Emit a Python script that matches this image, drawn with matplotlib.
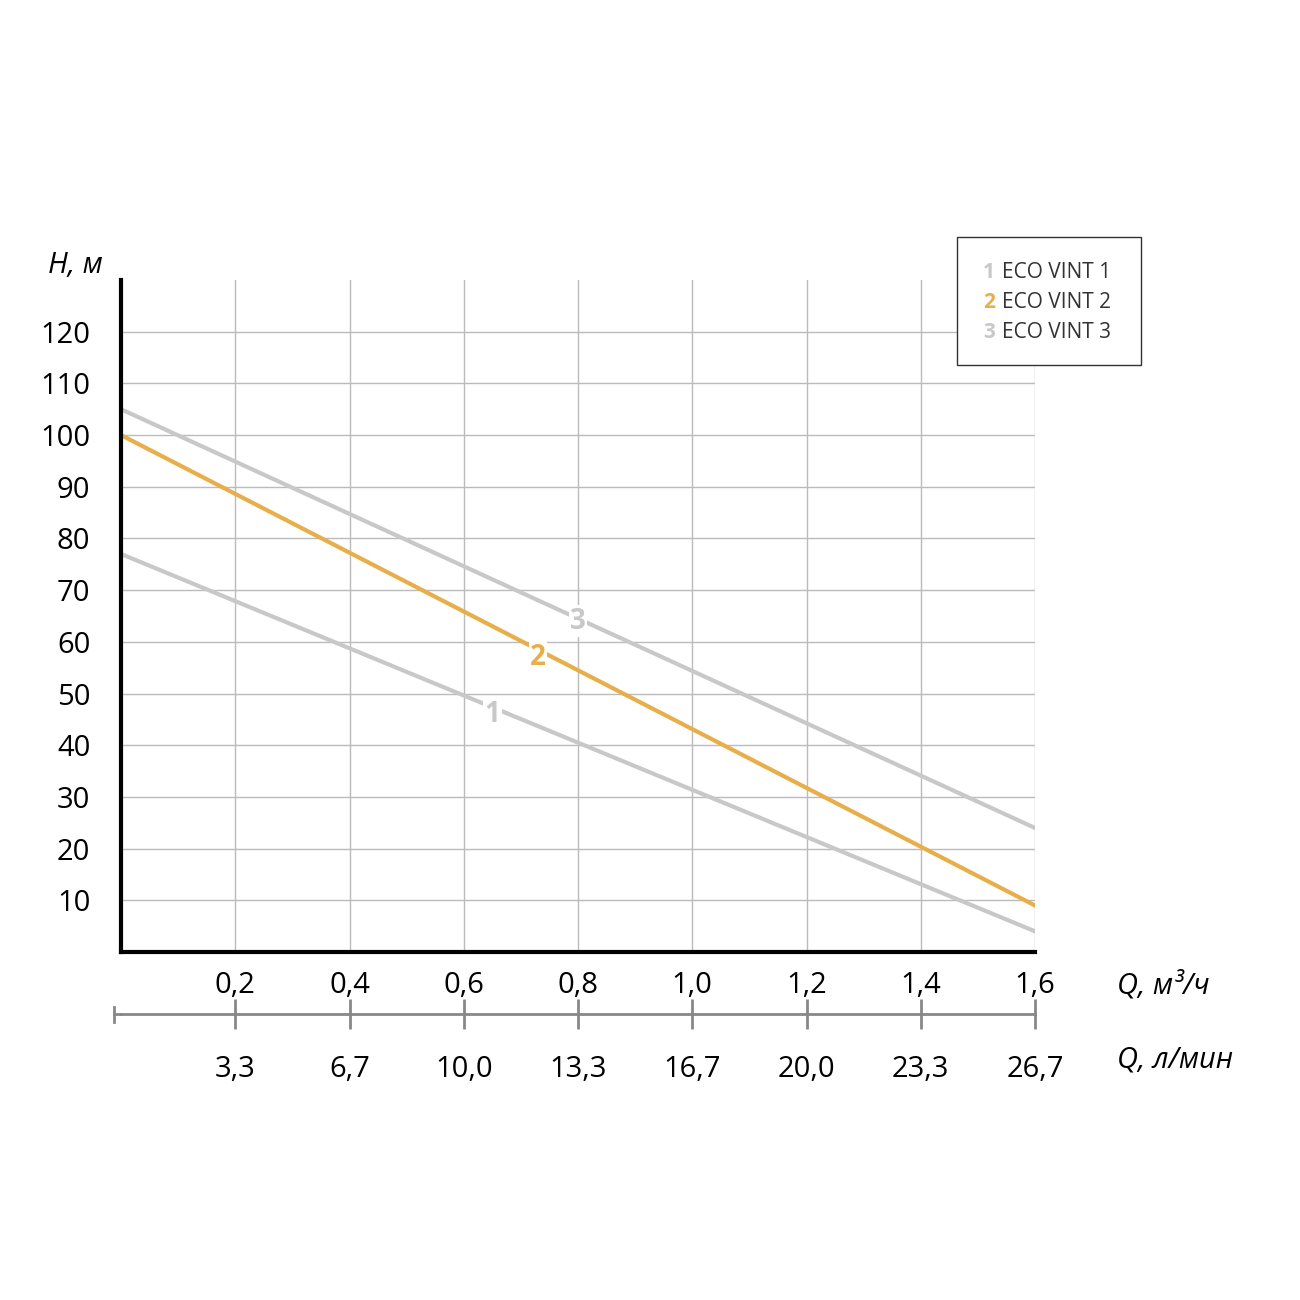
import matplotlib
matplotlib.use("Agg")
import matplotlib.pyplot as plt
import numpy as np

q_m3h = [0.0, 1.6]
h1 = [77, 4]
h2 = [100, 9]
h3 = [105, 24]
xticks = [0.2, 0.4, 0.6, 0.8, 1.0, 1.2, 1.4, 1.6]
xlabels = ["0,2", "0,4", "0,6", "0,8", "1,0", "1,2", "1,4", "1,6"]
lmin_labels = ["3,3", "6,7", "10,0", "13,3", "16,7", "20,0", "23,3", "26,7"]
yticks = list(range(10, 130, 10))
names = ["ECO VINT 1", "ECO VINT 2", "ECO VINT 3"]

GRAY = "#c8c8c8"
ORANGE = "#e8ae4a"
plt.rcParams['font.family'] = ['Open Sans', 'DejaVu Sans']

fig = plt.figure(figsize=(13, 13), dpi=100)
ax = fig.add_axes([121/1300, 1-952/1300, (1035-121)/1300, (952-280)/1300])
ax.set_xlim(0, 1.6)
ax.set_ylim(0, 130)
for x in xticks:
    ax.axvline(x, color="#bbbbbb", lw=1, zorder=0)
for y in yticks:
    ax.axhline(y, color="#bbbbbb", lw=1, zorder=0)
ax.plot(q_m3h, h1, color=GRAY, lw=3)
ax.plot(q_m3h, h3, color=GRAY, lw=3)
ax.plot(q_m3h, h2, color=ORANGE, lw=3)
for lbl, xx, yy, c in [("1", 0.65, 46, GRAY), ("2", 0.73, 57, ORANGE), ("3", 0.8, 64, GRAY)]:
    ax.text(xx, yy, lbl, color=c, fontsize=20, fontweight="bold", ha="center", va="center",
            bbox=dict(facecolor="white", edgecolor="none", pad=1))
for s in ["top", "right"]:
    ax.spines[s].set_visible(False)
for s in ["left", "bottom"]:
    ax.spines[s].set_linewidth(3)
ax.set_yticks(yticks)
ax.set_yticklabels([str(v) for v in yticks], fontsize=21)
ax.set_xticks(xticks)
ax.set_xticklabels(xlabels, fontsize=21)
ax.tick_params(length=0, pad=14)
ax.tick_params(axis="y", pad=22)
ax.text(-0.08, 1.0, "H, м", transform=ax.transAxes, fontsize=21, style="italic", ha="left", va="bottom")
ax.text(1.09, -0.05, "Q, м³/ч", transform=ax.transAxes, fontsize=21, style="italic", ha="left", va="center")

sec = ax.secondary_xaxis(-0.093)
sec.set_ticks(xticks)
sec.set_xticklabels(lmin_labels, fontsize=21)
sec.spines["bottom"].set_color("#888888")
sec.spines["bottom"].set_linewidth(2)
sec.tick_params(direction="inout", length=22, width=2, color="#888888", pad=18)
ax.text(1.09, -0.16, "Q, л/мин", transform=ax.transAxes, fontsize=21, style="italic", ha="left", va="center")
ax.plot([-0.013, 0], [-0.093*130]*2, color="#888888", lw=2, clip_on=False, transform=ax.transData)
ax.plot([-0.013, -0.013], [-0.093*130-1.5, -0.093*130+1.5], color="#888888", lw=2, clip_on=False)

# legend box
fig.patches.append(plt.Rectangle((957/1300, 1-365/1300), (1141-957)/1300, (365-237)/1300,
                                 transform=fig.transFigure, facecolor="white", edgecolor="#333333", lw=1))
for i, (n, c) in enumerate(zip(names, [GRAY, ORANGE, GRAY])):
    yy = 1 - (273 + 30*i)/1300
    fig.text(983/1300, yy, str(i+1), color=c, fontsize=15, fontweight="bold", va="center")
    fig.text(1002/1300, yy, n, color="#333333", fontsize=15, va="center")

fig.savefig("out.png", dpi=100, facecolor="white")
